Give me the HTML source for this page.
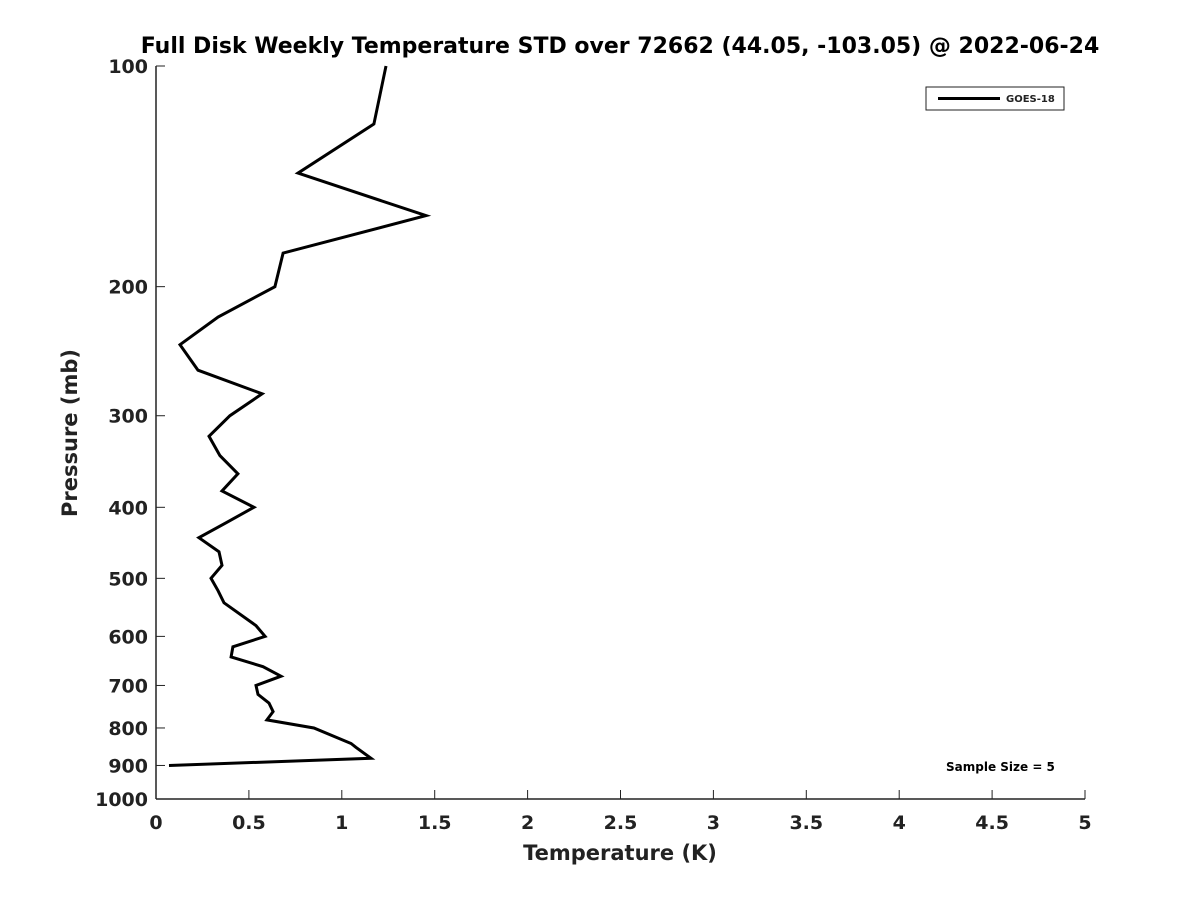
<!DOCTYPE html>
<html><head><meta charset="utf-8"><style>
body{margin:0;background:#fff;font-family:"Liberation Sans","DejaVu Sans",sans-serif}
svg text{font-family:"DejaVu Sans","Liberation Sans",sans-serif;font-weight:bold;fill:#222}
</style></head><body>
<svg id="chart" width="1200" height="900" xmlns="http://www.w3.org/2000/svg">
<rect width="1200" height="900" fill="#fff"/>
<text x="620" y="53" text-anchor="middle" font-size="22" style="fill:#000">Full Disk Weekly Temperature STD over 72662 (44.05, -103.05) @ 2022-06-24</text>
<g id="axes"></g>
<path id="line" fill="none" stroke="#000" stroke-width="3" stroke-linejoin="miter"/>
<g>
<rect x="926" y="87" width="138" height="23" fill="#fff" stroke="#222" stroke-width="1"/>
<line x1="938" y1="98.5" x2="1000" y2="98.5" stroke="#000" stroke-width="3"/>
<text x="1006" y="102" font-size="10">GOES-18</text>
</g>
<text x="946" y="771" font-size="12" style="fill:#000">Sample Size = 5</text>
<text x="620" y="860" text-anchor="middle" font-size="21">Temperature (K)</text>
<text transform="translate(77,433) rotate(-90)" text-anchor="middle" font-size="21">Pressure (mb)</text>
</svg>
<script>
const pressures=[100,120,140,160,180,200,220,240,260,280,300,320,340,360,380,400,420,440,460,480,500,520,540,580,600,620,640,660,680,700,720,740,760,780,800,840,850,880,900];
const temps=[1.238,1.173,0.764,1.453,0.684,0.640,0.334,0.129,0.226,0.571,0.398,0.285,0.344,0.441,0.355,0.527,0.377,0.231,0.339,0.355,0.296,0.334,0.366,0.538,0.587,0.414,0.404,0.576,0.673,0.538,0.549,0.608,0.630,0.597,0.850,1.050,1.076,1.157,0.070];
const xTicks=[0,0.5,1,1.5,2,2.5,3,3.5,4,4.5,5];
const xTickLabels=["0","0.5","1","1.5","2","2.5","3","3.5","4","4.5","5"];
const yTicks=[100,200,300,400,500,600,700,800,900,1000];
const yTickLabels=["100","200","300","400","500","600","700","800","900","1000"];
const X0=156,X1=1085,Y0=66,Y1=799;
function xs(v){return X0+(v-0)/(5-0)*(X1-X0);}
function ys(p){return Y0+(Math.log10(p)-2)/(3-2)*(Y1-Y0);}
const ns="http://www.w3.org/2000/svg";
const axes=document.getElementById('axes');
function mk(tag,attrs){const e=document.createElementNS(ns,tag);for(const k in attrs)e.setAttribute(k,attrs[k]);return e;}
const xa=mk('line',{x1:X0,y1:Y1,x2:X1,y2:Y1,stroke:'#222','stroke-width':1.5});


axes.appendChild(xa);
const ya=mk('line',{x1:X0,y1:Y0,x2:X0,y2:Y1,stroke:'#222','stroke-width':1.5});


axes.appendChild(ya);
xTicks.forEach((t,i)=>{
  const x=xs(t);
  const l=mk('line',{x1:x,y1:Y1,x2:x,y2:Y1-9,stroke:'#222','stroke-width':1});
  
  
  axes.appendChild(l);
  const tx=mk('text',{x:x,y:Y1+30,'text-anchor':'middle','font-size':19});
  
  
  tx.textContent=xTickLabels[i];axes.appendChild(tx);
});
yTicks.forEach((t,i)=>{
  const y=ys(t);
  const l=mk('line',{x1:X0,y1:y,x2:X0+9,y2:y,stroke:'#222','stroke-width':1});
  
  
  axes.appendChild(l);
  const tx=mk('text',{x:X0-8,y:y+7,'text-anchor':'end','font-size':19});
  
  
  tx.textContent=yTickLabels[i];axes.appendChild(tx);
});
document.getElementById('line').setAttribute('d',pressures.map((p,i)=>(i?'L':'M')+xs(temps[i]).toFixed(1)+','+ys(p).toFixed(1)).join(''));
</script>
</body></html>
